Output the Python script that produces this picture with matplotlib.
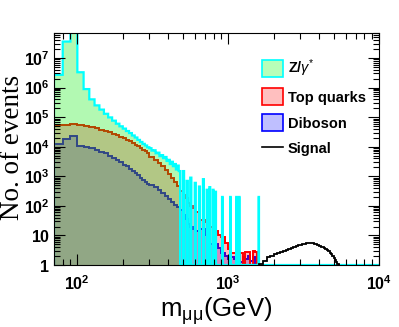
import numpy as np
import matplotlib.pyplot as plt
from matplotlib.patches import Patch
from matplotlib.lines import Line2D
from matplotlib.ticker import FixedLocator, FuncFormatter, NullFormatter

# Z/gamma* : 10 GeV bins starting at 70 GeV (smooth part, up to 480 GeV)
z_start = 70
z_width = 10
z_vals = [2.7e6, 3.6e7, 1.2e8, 3.3e6, 8.9e5, 4.0e5, 2.5e5, 1.8e5, 1.3e5, 9.8e4,
          7.6e4, 6.0e4, 4.9e4, 4.1e4, 3.4e4, 2.9e4, 2.4e4, 2.05e4, 1.7e4, 1.45e4,
          1.25e4, 1.1e4, 9.6e3, 8.9e3, 7.4e3, 7.6e3, 6.0e3, 6.3e3, 4.8e3, 5.2e3,
          4.1e3, 4.5e3, 3.3e3, 3.6e3, 2.6e3, 3.1e3, 2.2e3, 2.6e3, 1.7e3, 2.3e3, 1.5e3]
# isolated Z/gamma* bins above 480 GeV (lower edge, content)
z_spike_lo = [500, 530, 560, 600, 640, 680, 720, 750, 790, 820,
              910, 1030, 1130, 1180, 1590]
z_spike_val = [1500, 700, 900, 600, 450, 800, 350, 430, 350, 300,
               200, 200, 200, 200, 200]

# top quarks and diboson share one variable binning
bkg_edges = np.concatenate([np.arange(70, 300, 10), np.arange(300, 600, 20),
                            np.arange(600, 1601, 50)])
top_vals = [5.3e4, 5.6e4, 5.7e4, 5.5e4, 5.0e4, 4.6e4, 4.2e4, 3.8e4, 3.5e4, 3.1e4,
            2.75e4, 2.45e4, 2.2e4, 1.95e4, 1.74e4, 1.55e4, 1.35e4, 1.17e4, 1.02e4,
            8.9e3, 7.9e3, 6.9e3, 6.0e3,
            4.5e3, 3.55e3, 2.8e3, 2.25e3, 1.65e3, 1.2e3, 890, 660, 480, 330, 240,
            178, 126, 100, 83,
            63, 32, 28, 20, 14, 10, 9, 5.5, 3.5, 2.5, 2.5, 0, 2.5, 0, 2.8, 2.8, 0,
            3, 2.8, 0]
dib_vals = [1.2e4, 1.8e4, 2.3e4, 1.07e4, 1.0e4, 8.9e3, 7.8e3, 6.8e3, 5.9e3, 5.0e3,
            4.2e3, 3.55e3, 2.95e3, 2.5e3, 2.15e3, 1.8e3, 1.5e3, 1.26e3, 1.07e3,
            910, 775, 645, 550,
            525, 427, 347, 282, 224, 166, 132, 107, 89, 71, 50, 35, 25, 20, 16.6,
            14, 16, 10, 5, 5, 3.7, 2.5, 2, 1.6, 1.8, 1.6, 2, 1.3, 1.8, 1.6, 2, 1.4,
            1.8, 0, 0]

# signal : 100 GeV bins from 1600 GeV
sig_start = 1600
sig_width = 100
sig_vals = [1.1, 1.4, 1.8, 2.0, 2.3, 2.6, 2.8, 3.0, 3.3, 3.6, 3.9, 4.2, 4.4, 4.7,
            4.9, 5.1, 5.3, 5.5, 5.6, 5.6, 5.5, 5.3, 5.0, 4.7, 4.4, 4.2, 4.0, 3.8,
            3.6, 3.3, 3.0, 2.6, 2.3, 2.0, 1.7, 1.5, 1.3, 1.1, 0.8]

plt.rcParams['font.family'] = 'Liberation Sans'
plt.rcParams['mathtext.fontset'] = 'custom'
plt.rcParams['mathtext.rm'] = 'Liberation Sans'
plt.rcParams['mathtext.it'] = 'Liberation Sans:italic'
plt.rcParams['mathtext.bf'] = 'Liberation Sans:bold'

# full Z histogram on the 10 GeV grid up to 10 TeV
z_edges = np.arange(z_start, 10001, z_width)
z_full = np.zeros(len(z_edges) - 1)
z_full[:len(z_vals)] = z_vals
for lo, v in zip(z_spike_lo, z_spike_val):
    z_full[(lo - z_start) // z_width] = v

sig_edges = sig_start + sig_width * np.arange(len(sig_vals) + 1)

floor = 1.0
fig = plt.figure(figsize=(3.99, 3.27), dpi=100)
ax = fig.add_axes([0.1353, 0.1896, 0.8147, 0.7094])

dib = np.clip(np.array(dib_vals), floor, None)
top = np.clip(np.array(top_vals), floor, None)
zz = np.clip(z_full, floor, None)
sig = np.clip(np.array(sig_vals), floor, None)

ax.stairs(dib, bkg_edges, baseline=floor, fill=True, color=(0, 0, 1), alpha=0.25, lw=0)
ax.stairs(dib, bkg_edges, baseline=floor, color='blue', lw=1.4)
ax.stairs(top, bkg_edges, baseline=floor, fill=True, color=(1, 0, 0.1), alpha=0.28, lw=0)
ax.stairs(top, bkg_edges, baseline=floor, color='red', lw=1.4)
ax.stairs(zz, z_edges, baseline=floor, fill=True, color=(0, 0.93, 0), alpha=0.3, lw=0)
ax.stairs(zz, z_edges, baseline=floor, color='cyan', lw=1.6)
ax.stairs(sig, sig_edges, baseline=floor, color='black', lw=1.3)

ax.set_xscale('log')
ax.set_yscale('log')
ax.set_xlim(70, 10000)
ax.set_ylim(1, 7e7)

ax.xaxis.set_major_locator(FixedLocator([100, 1000, 10000]))
ax.xaxis.set_minor_locator(FixedLocator([m * 10 ** d for d in range(1, 4) for m in range(2, 10)]))
ax.yaxis.set_major_locator(FixedLocator([10 ** d for d in range(0, 8)]))
ax.yaxis.set_minor_locator(FixedLocator([m * 10 ** d for d in range(0, 8) for m in range(2, 10)]))


def logfmt(v, pos):
    d = int(round(np.log10(v)))
    if d == 0:
        return r'$\mathbf{1}$'
    if d == 1:
        return r'$\mathbf{10}$'
    return r'$\mathbf{10^{%d}}$' % d


ax.xaxis.set_major_formatter(FuncFormatter(logfmt))
ax.yaxis.set_major_formatter(FuncFormatter(logfmt))
ax.xaxis.set_minor_formatter(NullFormatter())
ax.yaxis.set_minor_formatter(NullFormatter())
ax.tick_params(which='both', direction='in', top=True, right=True, labelsize=11.5)
ax.tick_params(which='major', length=8, width=0.8)
ax.tick_params(which='minor', length=4, width=0.8)
ax.tick_params(axis='x', pad=7)
ax.tick_params(axis='y', pad=3)
for s in ax.spines.values():
    s.set_linewidth(0.8)

fig.text(0.032, 0.55, 'No. of events', family='Liberation Serif', fontsize=19.5,
         rotation=90, ha='center', va='center')
fig.text(0.542, 0.03, r'm$_{\mathrm{\mu\mu}}$(GeV)', fontsize=18.5,
         ha='center', va='baseline')

handles = [Patch(facecolor=(0.72, 1, 0.72), edgecolor='cyan', lw=1.2),
           Patch(facecolor=(1, 0.75, 0.75), edgecolor='red', lw=1.2),
           Patch(facecolor=(0.75, 0.75, 1), edgecolor='blue', lw=1.2),
           Line2D([], [], color='black', lw=1.2)]
labels = [r'$\mathbf{Z/}\gamma^{*}$', 'Top quarks', 'Diboson', 'Signal']
ax.legend(handles, labels, loc='upper left', bbox_to_anchor=(0.60, 0.95),
          frameon=False, prop={'weight': 'bold', 'size': 10.5},
          handlelength=1.4, handleheight=1.4, labelspacing=0.62, handletextpad=0.35)

fig.savefig('out.png', dpi=100)
